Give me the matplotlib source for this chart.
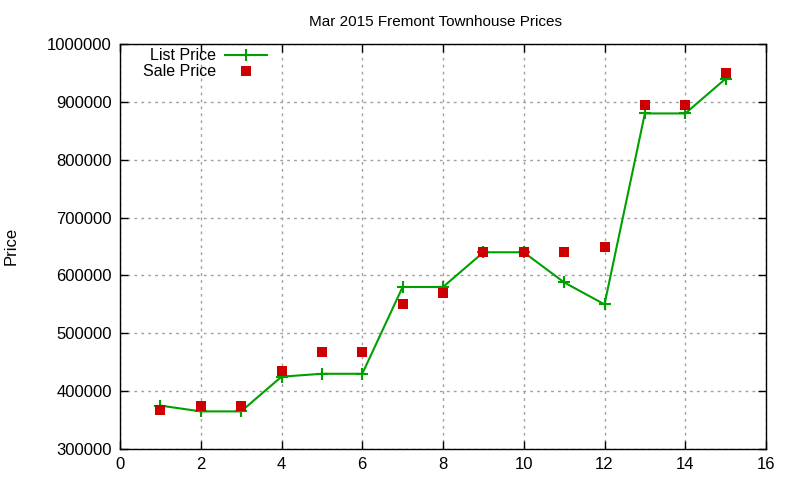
import matplotlib
matplotlib.use("Agg")
import matplotlib.pyplot as plt
from matplotlib.lines import Line2D

plt.rcParams['font.family'] = ['Liberation Sans', 'DejaVu Sans']

x = [1, 2, 3, 4, 5, 6, 7, 8, 9, 10, 11, 12, 13, 14, 15]
list_price = [375000, 365000, 365000, 425000, 430000, 430000, 580000, 580000,
              640000, 640000, 588000, 550000, 880000, 880000, 940000]
sale_price = [368000, 375000, 375000, 435000, 468000, 468000, 550000, 570000,
              640000, 640000, 640000, 650000, 895000, 895000, 950000]
title = "Mar 2015 Fremont Townhouse Prices"
ylabel = "Price"
labels = ["List Price", "Sale Price"]

green = "#00a000"
red = "#cc0000"

fig = plt.figure(figsize=(8, 4.8), dpi=100)
ax = fig.add_axes([0.15, 0.0646, 0.8075, 0.8437])

ax.plot(x, list_price, color=green, lw=1.5, marker='+', ms=9, mew=1.5, zorder=3)
ax.plot(x, sale_price, ls='none', color=red, marker='s', ms=7, mew=0, zorder=4)

ax.set_xlim(0, 16)
ax.set_ylim(300000, 1000000)
ax.set_xticks(range(0, 17, 2))
ax.set_yticks(range(300000, 1000001, 100000))
ax.ticklabel_format(style='plain', axis='y', useOffset=False)
ax.grid(True, color='#a0a0a0', ls=(0, (2, 3)), lw=1)
ax.tick_params(direction='in', top=True, right=True, length=6, width=1,
               labelsize=12, pad=6)
for s in ax.spines.values():
    s.set_linewidth(1)

fig.text(0.5446, 0.955, title, ha='center', va='center', fontsize=11)
fig.text(0.0135, 0.4875, ylabel, rotation=90, ha='center', va='center', fontsize=12)

# legend (gnuplot style: right-aligned text, sample to the right)
ax.text(0.1486, 0.9728, labels[0], transform=ax.transAxes, ha='right', va='center', fontsize=11.5)
ax.text(0.1486, 0.9333, labels[1], transform=ax.transAxes, ha='right', va='center', fontsize=11.5)
ax.add_line(Line2D([0.1625, 0.2275], [0.9728, 0.9728], transform=ax.transAxes,
                   color=green, lw=1.5))
ax.add_line(Line2D([0.195], [0.9728], transform=ax.transAxes, color=green,
                   marker='+', ms=9, mew=1.5, ls='none'))
ax.add_line(Line2D([0.195], [0.9333], transform=ax.transAxes, color=red,
                   marker='s', ms=7, mew=0, ls='none'))

fig.savefig("out.png", dpi=100)
